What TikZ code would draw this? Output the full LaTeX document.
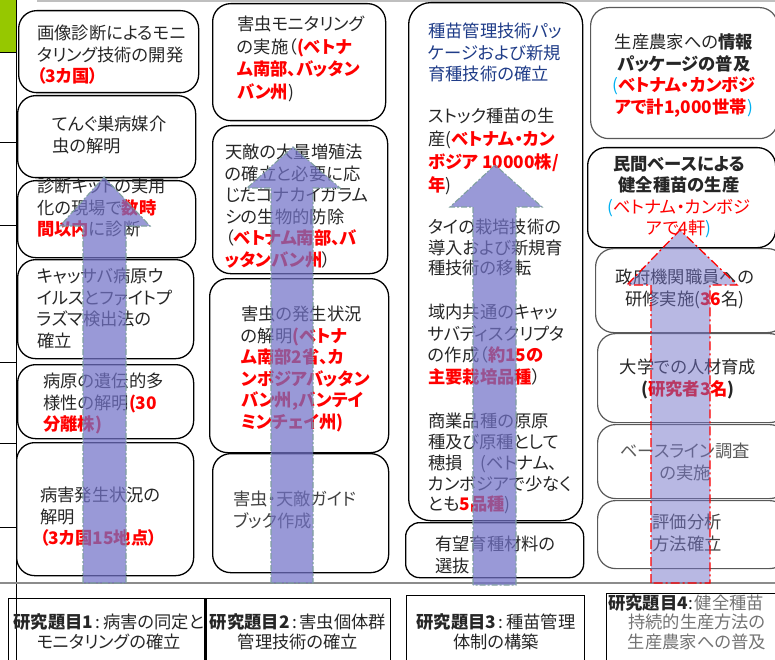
\documentclass[tikz,border=0pt]{standalone}
\usepackage{fontspec}
\setmainfont{Noto Sans CJK JP}[RawFeature=+palt]
\definecolor{txt}{HTML}{262626}
\definecolor{navy}{HTML}{1F3C88}
\definecolor{lblue}{HTML}{00B0F0}
\definecolor{arrowc}{HTML}{7272C8}
\definecolor{edgec}{HTML}{7F9F9F}
\definecolor{leaf}{HTML}{96C800}
\newcommand{\RB}[1]{\textcolor{red}{\bfseries #1}}
\newcommand{\RR}[1]{\textcolor{red}{#1}}
\newcommand{\LB}[1]{\textcolor{lblue}{#1}}
\newcommand{\cln}{\hspace{2.5pt}:\hspace{2.5pt}}
\tikzset{
 box/.style={draw=black, line width=1.3pt, rounded corners=18pt, anchor=north west, inner sep=0pt},
 gbox/.style={box, draw=black!65, line width=1.2pt},
 tbox/.style={draw=black, line width=1.4pt, anchor=north west, inner sep=0pt},
 txt/.style={anchor=north west, inner sep=0pt, align=left, text=txt, font=\fontsize{17.3}{21.5}\selectfont},
 ctxt/.style={txt, anchor=north, align=center},
 ttxt/.style={ctxt, font=\fontsize{17.3}{20}\selectfont},
 bigarrow/.style={fill=arrowc, fill opacity=0.72, draw=edgec, line width=1.1pt, dash pattern=on 6pt off 2pt on 2pt off 2pt},
 redarrow/.style={fill=arrowc, fill opacity=0.5, draw=red, line width=1.3pt, dash pattern=on 9pt off 3pt on 2pt off 3pt},
}
\begin{document}
\begin{tikzpicture}[x=1pt,y=-1pt]
\useasboundingbox (0,0) rectangle (775,660);
% left strip
\fill[leaf] (0,0) rectangle (17,52);
\draw[black, line width=1pt] (16,0) -- (16,660);
\foreach \yy in {52,142,225,362,443,527} \draw[black, line width=0.8pt] (0,\yy) -- (16,\yy);
\draw[black!25, line width=1.5pt] (37,1) -- (775,1);
\draw[black!45, line width=1.5pt] (0,583) -- (775,583);

% column 1
\node[box, minimum width=180pt, minimum height=82pt] (A) at (18,10) {};
\node[box, minimum width=178pt, minimum height=82pt] (B) at (17,95) {};
\node[box, minimum width=178pt, minimum height=77pt] (C) at (17,180) {};
\node[box, minimum width=176pt, minimum height=99pt] (D) at (17,259) {};
\node[box, minimum width=176pt, minimum height=74pt] (E) at (17,364) {};
\node[box, minimum width=177pt, minimum height=133pt] (F) at (16,442) {};
% column 2
\node[box, minimum width=173pt, minimum height=117pt] (G) at (212,3) {};
\node[box, minimum width=175pt, minimum height=148pt] (H) at (212,125) {};
\node[box, minimum width=179pt, minimum height=174pt] (I) at (209,278) {};
\node[box, minimum width=176pt, minimum height=119pt] (J) at (212,453) {};
% column 3
\node[box, rounded corners=22pt, minimum width=174pt, minimum height=518pt] (K) at (408,2) {};
\node[box, rounded corners=14pt, minimum width=178pt, minimum height=55pt] (L) at (405,522) {};
% column 4
\node[gbox, minimum width=187pt, minimum height=131pt] (M) at (590,7) {};
\node[box, minimum width=188pt, minimum height=100pt] (N) at (587,147) {};
\node[gbox, minimum width=190pt, minimum height=84pt] (O) at (595,248) {};
\node[gbox, minimum width=190pt, minimum height=89pt] (P) at (597,333) {};
\node[gbox, minimum width=190pt, minimum height=74pt] (Q) at (597,424) {};
\node[gbox, minimum width=190pt, minimum height=68pt] (R) at (597,500) {};
% title boxes
\node[tbox, minimum width=197pt, minimum height=70pt] (T1) at (8,598) {};
\node[tbox, minimum width=185pt, minimum height=70pt] (T2) at (205,598) {};
\draw[black, line width=3pt] (T2.north west) -- (T2.south west);
\node[tbox, minimum width=178pt, minimum height=70pt] (T3) at (406,595) {};
\node[tbox, minimum width=180pt, minimum height=72pt] (T4) at (606,593) {};

% texts column 1
\node[txt] (tA) at (37,25) {画像診断によるモニ\\タリング技術の開発\\\RB{（3カ国）}};
\node[txt] (tB) at (52,116) {てんぐ巣病媒介\\虫の解明};
\node[txt] (tC) at (37,178) {診断キットの実用\\化の現場で\RB{数時}\\\RB{間以内}に診断};
\node[txt] (tD) at (37,268) {キャッサバ病原ウ\\イルスとファイトプ\\ラズマ検出法の\\確立};
\node[txt] (tE) at (43,373) {病原の遺伝的多\\様性の解明\RB{(30}\\\RB{分離株)}};
\node[txt] (tF) at (40,487) {病害発生状況の\\解明\\\RB{（3カ国15地点）}};
% texts column 2
\node[txt, font=\fontsize{17.3}{22.5}\selectfont] (tG) at (237,16) {害虫モニタリング\\の実施（\RB{(ベトナ}\\\RB{ム南部、バッタン}\\\RB{バン州})};
\node[txt] (tH) at (225,144) {天敵の大量増殖法\\の確立と必要に応\\じたコナカイガラム\\シの生物的防除\\（\RB{ベトナム南部、バ}\\\RB{ッタンバン州}）};
\node[txt] (tI) at (241,306) {害虫の発生状況\\の解明\RB{(ベトナ}\\\RB{ム南部2省、カ}\\\RB{ンボジアバッタン}\\\RB{バン州,バンテイ}\\\RB{ミンチェイ州)}};
\node[txt, text=black!75] (tJ) at (233,491) {害虫・天敵ガイド\\ブック作成};
% texts column 3
\node[txt, text=navy] (tK1) at (428,23) {種苗管理技術パッ\\ケージおよび新規\\育種技術の確立};
\node[txt, font=\fontsize{17.3}{23}\selectfont] (tK2) at (428,108) {ストック種苗の生\\産(\RB{ベトナム・カン}\\\RB{ボジア\ 10000株/}\\\RB{年})};
\node[txt, font=\fontsize{17.3}{20.5}\selectfont] (tK3) at (428,219) {タイの栽培技術の\\導入および新規育\\種技術の移転};
\node[txt] (tK4) at (428,304) {域内共通のキャッ\\サバディスクリプタ\\の作成（\RB{約15の}\\\RB{主要栽培品種}）};
\node[txt, font=\fontsize{17.3}{20.8}\selectfont] (tK5) at (428,413) {商業品種の原原\\種及び原種として\\穂損　(ベトナム、\\カンボジアで少なく\\とも\RB{5品種})};
\node[txt] (tL) at (435,536) {有望育種材料の\\選抜};
% texts column 4
\node[ctxt] (tM) at (684,34) {生産農家への\textbf{情報}\\\textbf{パッケージの普及}\\\LB{(}\RB{ベトナム・カンボジ}\\\RB{アで計1,000世帯}\LB{)}};
\node[ctxt] (tN) at (679,156) {\textbf{民間ベースによる}\\\textbf{健全種苗の生産}\\\LB{(}\RR{ベトナム・カンボジ}\\\RR{アで4軒}\LB{)}};
\node[ctxt] (tO) at (685,269) {政府機関職員への\\研修実施(\RB{36}名)};
\node[ctxt] (tP) at (688,359) {大学での人材育成\\\textbf{(}\RB{研究者3名}\textbf{)}};
\node[ctxt, text=black!65] (tQ) at (685,443) {ベースライン調査\\の実施};
\node[ctxt, text=black!75] (tR) at (687,514) {評価分析\\方法確立};
% title texts
\node[ttxt] (tT1) at (109,613) {\textbf{研究題目1}\cln 病害の同定と\\モニタリングの確立};
\node[ttxt] (tT2) at (298,613) {\textbf{研究題目2}\cln 害虫個体群\\管理技術の確立};
\node[ttxt] (tT3) at (496,613) {\textbf{研究題目3}\cln 種苗管理\\体制の構築};
\node[txt, font=\fontsize{17.3}{19.5}\selectfont, text=black!55] (tT4a) at (608,594) {\textcolor{txt}{\textbf{研究題目4}\hspace{1pt}:\hspace{1pt}}健全種苗};
\node[ttxt, font=\fontsize{17.3}{19.5}\selectfont, text=black!55] (tT4b) at (697,614) {持続的生産方法の\\生産農家への普及};

% big arrows
\path[bigarrow] (83,583) -- (83,226) -- (60,226) -- (104,177) -- (150,226) -- (126,226) -- (126,583) -- cycle;
\path[bigarrow] (271,583) -- (271,188) -- (247,188) -- (293,147) -- (340,188) -- (313,188) -- (313,583) -- cycle;
\path[bigarrow] (473,585) -- (473,207) -- (450,207) -- (495,165) -- (542,207) -- (516,207) -- (516,585) -- cycle;
\path[redarrow] (651,583) -- (651,285) -- (627,285) -- (680,230) -- (737,285) -- (710,285) -- (710,583) -- cycle;
\end{tikzpicture}
\end{document}
